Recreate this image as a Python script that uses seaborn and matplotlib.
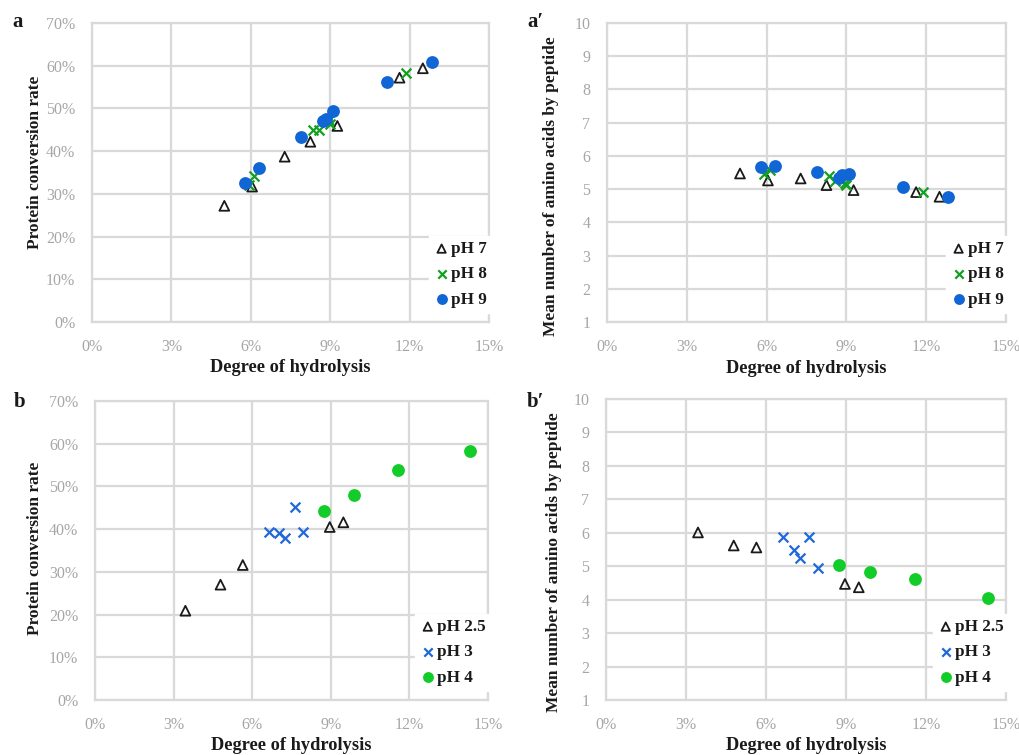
import numpy as np
import pandas as pd
import matplotlib
matplotlib.use("Agg")
import matplotlib.pyplot as plt
import seaborn as sns
from matplotlib.ticker import FuncFormatter

sns.set_style("white")
plt.rcParams['font.family'] = ['Liberation Serif', 'DejaVu Serif']

# ---------------- data: panel a / a' (pH 7, 8, 9) ----------------
dh_ph7 = [5.0, 6.05, 7.28, 8.25, 9.27, 11.62, 12.5]
pcr_ph7 = [27.2, 31.7, 38.7, 42.2, 45.9, 57.2, 59.4]
aa_ph7 = [5.47, 5.26, 5.32, 5.12, 4.97, 4.91, 4.77]

dh_ph8 = [5.92, 6.11, 8.35, 8.58, 8.96, 9.0, 11.87]
pcr_ph8 = [32.1, 34.2, 45.0, 45.0, 47.3, 46.4, 58.2]
aa_ph8 = [5.44, 5.59, 5.39, 5.24, 5.19, 5.12, 4.91]

dh_ph9 = [5.79, 6.31, 7.89, 8.73, 8.83, 9.1, 11.14, 12.83]
pcr_ph9 = [32.6, 36.1, 43.4, 47.0, 47.5, 49.4, 56.2, 60.9]
aa_ph9 = [5.66, 5.71, 5.52, 5.34, 5.42, 5.44, 5.07, 4.75]

# ---------------- data: panel b / b' (pH 2.5, 3, 4) ----------------
dh_ph25 = [3.45, 4.79, 5.64, 8.96, 9.48]
pcr_ph25 = [20.9, 27.0, 31.6, 40.5, 41.6]
aa_ph25 = [6.01, 5.62, 5.56, 4.47, 4.37]

dh_ph3 = [6.64, 7.04, 7.26, 7.62, 7.94]
pcr_ph3 = [39.3, 39.1, 38.0, 45.1, 39.4]
aa_ph3 = [5.87, 5.49, 5.24, 5.87, 4.94]

dh_ph4 = [8.75, 9.89, 11.58, 14.32]
pcr_ph4 = [44.3, 48.0, 53.9, 58.4]
aa_ph4 = [5.04, 4.82, 4.63, 4.06]

x_ticks = [0, 3, 6, 9, 12, 15]
pcr_ticks = [0, 10, 20, 30, 40, 50, 60, 70]
aa_ticks = [1, 2, 3, 4, 5, 6, 7, 8, 9, 10]

W, H = 1019, 755
fig = plt.figure(figsize=(W / 100, H / 100), dpi=100)

PANELS = {
    "a": (92, 489, 23, 322),
    "a2": (607, 1006, 23, 322),
    "b": (95, 488, 401, 700),
    "b2": (606, 1006, 399, 700),
}


def ax_px(key):
    l, r, t, b = PANELS[key]
    return fig.add_axes([l / W, (H - b) / H, (r - l) / W, (b - t) / H])


ax_a = ax_px("a")
ax_a2 = ax_px("a2")
ax_b = ax_px("b")
ax_b2 = ax_px("b2")

BLACK = "#1a1a1a"
GREEN_A = "#11a020"
BLUE_A = "#0f66d4"
BLUE_B = "#1f6ad8"
GREEN_B = "#12cc2a"
GRID = "#d9d9d9"
TICK = "#a6a6a6"


def series(ax, x, y, kind, color, label):
    df = pd.DataFrame({"x": x, "y": y})
    if kind == "tri":
        sns.scatterplot(data=df, x="x", y="y", ax=ax, marker="^", s=50,
                        facecolor="none", edgecolor=color, linewidth=1.3,
                        label=label, zorder=3)
    elif kind == "x":
        sns.scatterplot(data=df, x="x", y="y", ax=ax, marker="x", s=50,
                        color=color, linewidth=1.6, label=label, zorder=3)
    else:
        sns.scatterplot(data=df, x="x", y="y", ax=ax, marker="o", s=85,
                        color=color, edgecolor=color, linewidth=0,
                        label=label, zorder=3)


def style(ax, key, yticks, pct_y, ylabel, ylab_x, ylab_y, xlab_y):
    l, r, t, b = PANELS[key]
    w, h = r - l, b - t
    ax.set_xlim(0, 15)
    ax.set_ylim(yticks[0], yticks[-1])
    ax.set_xticks(x_ticks)
    ax.set_yticks(yticks)
    ax.xaxis.set_major_formatter(FuncFormatter(lambda v, p: f"{int(round(v))}%"))
    if pct_y:
        ax.yaxis.set_major_formatter(FuncFormatter(lambda v, p: f"{int(round(v))}%"))
    else:
        ax.yaxis.set_major_formatter(FuncFormatter(lambda v, p: f"{int(round(v))}"))
    ax.grid(True, color=GRID, linewidth=1.6, zorder=0)
    ax.set_axisbelow(True)
    for s in ax.spines.values():
        s.set_color(GRID)
        s.set_linewidth(1.6)
    ax.tick_params(axis="y", length=0, labelsize=11.5, labelcolor=TICK, pad=12)
    ax.tick_params(axis="x", length=0, labelsize=11.5, labelcolor=TICK, pad=12)
    ax.set_xlabel("Degree of hydrolysis", fontsize=13.2, fontweight="bold",
                  color=BLACK)
    ax.set_ylabel(ylabel, fontsize=12.5, fontweight="bold", color=BLACK)
    ax.yaxis.set_label_coords((ylab_x - l) / w, (b - ylab_y) / h)
    ax.xaxis.set_label_coords(0.5, (b - xlab_y) / h)
    ax.xaxis.label.set_va("center")
    ax.yaxis.label.set_va("center")
    leg = ax.legend(loc="lower right", frameon=True, fancybox=False,
                    edgecolor="white", facecolor="white", framealpha=1,
                    handletextpad=0.1, handlelength=0.9, labelspacing=0.55,
                    borderpad=0.3, borderaxespad=0.0,
                    bbox_to_anchor=(1.0 + 3 / w, 9 / h),
                    markerscale=0.85,
                    prop={"weight": "bold", "size": 12.3, "family": "Liberation Serif"})
    for t_ in leg.get_texts():
        t_.set_color(BLACK)


series(ax_a, dh_ph7, pcr_ph7, "tri", BLACK, "pH 7")
series(ax_a, dh_ph8, pcr_ph8, "x", GREEN_A, "pH 8")
series(ax_a, dh_ph9, pcr_ph9, "o", BLUE_A, "pH 9")
style(ax_a, "a", pcr_ticks, True, "Protein conversion rate", 35, 162, 367)

series(ax_a2, dh_ph7, aa_ph7, "tri", BLACK, "pH 7")
series(ax_a2, dh_ph8, aa_ph8, "x", GREEN_A, "pH 8")
series(ax_a2, dh_ph9, aa_ph9, "o", BLUE_A, "pH 9")
style(ax_a2, "a2", aa_ticks, False, "Mean number of amino acids by peptide", 551, 186, 368)

series(ax_b, dh_ph25, pcr_ph25, "tri", BLACK, "pH 2.5")
series(ax_b, dh_ph3, pcr_ph3, "x", BLUE_B, "pH 3")
series(ax_b, dh_ph4, pcr_ph4, "o", GREEN_B, "pH 4")
style(ax_b, "b", pcr_ticks, True, "Protein conversion rate", 35, 548, 745)

series(ax_b2, dh_ph25, aa_ph25, "tri", BLACK, "pH 2.5")
series(ax_b2, dh_ph3, aa_ph3, "x", BLUE_B, "pH 3")
series(ax_b2, dh_ph4, aa_ph4, "o", GREEN_B, "pH 4")
style(ax_b2, "b2", aa_ticks, False, "Mean number of amino acids by peptide", 554, 562, 745)

for txt, (px, py) in [("a", (12, 22)), ("a\u2032", (527, 22)),
                      ("b", (14, 402)), ("b\u2032", (527, 402))]:
    fig.text(px / W, 1 - py / H, txt, fontsize=15, fontweight="bold",
             color=BLACK, ha="left", va="center")

fig.savefig("out.png", dpi=100)
